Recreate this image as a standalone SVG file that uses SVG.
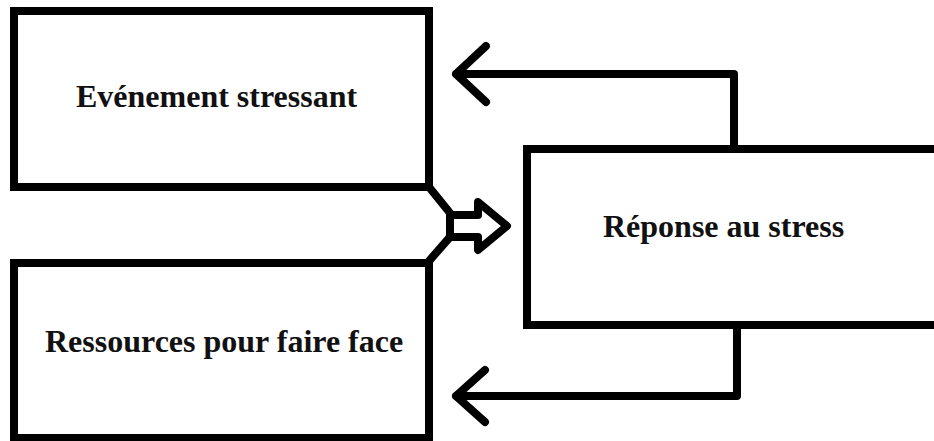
<svg xmlns="http://www.w3.org/2000/svg" width="934" height="441" viewBox="0 0 934 441">
<style>
.box{fill:#fff;stroke:#000;stroke-width:8}
.ln{fill:none;stroke:#000;stroke-width:8;stroke-linecap:round;stroke-linejoin:round}
.lbl{font-family:"Liberation Serif","Times New Roman",serif;font-weight:bold;font-size:32px;fill:#111}
</style>
<rect width="934" height="441" fill="#fff"/>
<g id="node-evenement">
<rect class="box" x="14" y="11" width="415" height="176"/>
<text class="lbl" x="76" y="107">Evénement stressant</text>
</g>
<g id="node-ressources">
<rect class="box" x="14" y="263" width="415" height="175"/>
<text class="lbl" x="45" y="352">Ressources pour faire face</text>
</g>
<g id="node-reponse">
<rect class="box" x="527" y="149" width="420" height="176"/>
<text class="lbl" x="603" y="237">Réponse au stress</text>
</g>
<g id="connectors">
<path class="ln" d="M734 149 V74 H456 M486 46 L456 74 L486 102"/>
<path class="ln" d="M737 325 V396 H456 M485 370 L456 396 L485 422"/>
<path class="ln" d="M429 187 L450 213 V237 L429 261"/>
<path class="ln" d="M450 215 H478 V202 L507 226 L478 250 V237 H450"/>
</g>
</svg>
